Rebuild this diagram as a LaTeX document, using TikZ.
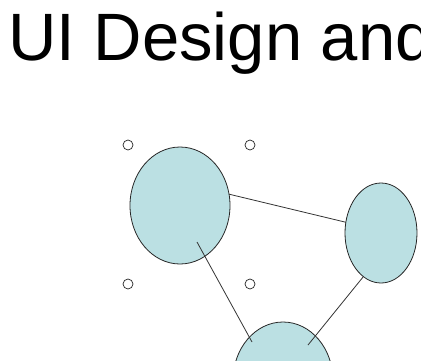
\documentclass[tikz,border=0pt]{standalone}
\usepackage{fontspec}
\setmainfont{Liberation Sans}
\usepackage{xcolor}
\usetikzlibrary{shapes.geometric}
\definecolor{blobfill}{HTML}{BBE0E3}
\definecolor{edgegray}{HTML}{333333}

\begin{document}
\begin{tikzpicture}[x=1pt,y=-1pt,
  blob/.style={ellipse,draw=black!85,line width=0.8pt,fill=blobfill,inner sep=0pt,outer sep=0pt},
  handle/.style={circle,draw=black!85,line width=0.7pt,fill=white,minimum size=10pt,inner sep=0pt},
  link/.style={draw=edgegray,line width=0.8pt}]
  \useasboundingbox (0,0) rectangle (421,360);
  \clip (0,0) rectangle (421,360);
  \node[anchor=base west,inner sep=0pt] (title) at (8,60.5) {\fontsize{67}{80}\selectfont UI Design and};
  \node[handle] (h1) at (128,145) {};
  \node[handle] (h2) at (250,145) {};
  \node[handle] (h3) at (128,284) {};
  \node[handle] (h4) at (250,284) {};
  \node[blob,minimum width=100pt,minimum height=117pt] (upper) at (180,205.5) {};
  \node[blob,minimum width=72pt,minimum height=100pt] (right) at (381,233) {};
  \node[blob,minimum width=100pt,minimum height=117pt] (lower) at (283,380.5) {};
  \coordinate (upperin) at (197,242);
  \coordinate (lowerin) at (252,342);
  \coordinate (lowerout) at (308,345);
  \draw[link] (upper.13) -- (right.163);
  \draw[link] (upperin) -- (lowerin);
  \draw[link] (lowerout) -- (right.248);
\end{tikzpicture}
\end{document}
